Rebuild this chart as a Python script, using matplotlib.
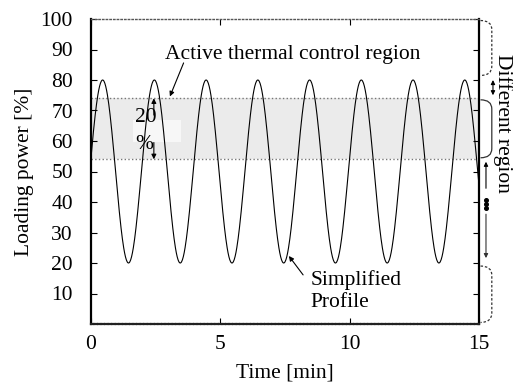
import numpy as np
import matplotlib
matplotlib.use("Agg")
import matplotlib.pyplot as plt
from matplotlib.patches import Rectangle
from matplotlib.path import Path
from matplotlib.patches import PathPatch

plt.rcParams['font.family'] = ['Liberation Serif', 'DejaVu Serif']

# Simplified mission profile: turning points of the loading cycle
peak_times = [0.45, 2.45, 4.45, 6.45, 8.45, 10.45, 12.45, 14.45]
trough_times = [-0.55, 1.45, 3.45, 5.45, 7.45, 9.45, 11.45, 13.45, 15.45]
peak_value = 80.0
trough_value = 20.0

# Active thermal control band
band_low, band_high = 54.0, 74.0

x_ticks = [0, 5, 10, 15]
y_ticks = [10, 20, 30, 40, 50, 60, 70, 80, 90, 100]

FS = 15.5

# build the profile: half-cosine transitions between successive turning points
turns = sorted([(t, peak_value) for t in peak_times] +
               [(t, trough_value) for t in trough_times])
ts, vs = [], []
for (t0, v0), (t1, v1) in zip(turns[:-1], turns[1:]):
    s = np.linspace(0, 1, 60)
    ts.extend(t0 + (t1 - t0) * s)
    vs.extend(v0 + (v1 - v0) * (1 - np.cos(np.pi * s)) / 2)

fig = plt.figure(figsize=(5.13, 3.83), dpi=100)
ax = fig.add_axes([91/513, 1-324/383, (479-91)/513, (324-19)/383])

ax.set_xlim(0, 15)
ax.set_ylim(0, 100)

# shaded control band with dotted edges
ax.axhspan(band_low, band_high, color='#ebebeb', zorder=0, lw=0)
ax.axhline(band_low, color='#777777', ls=':', lw=1.0, zorder=1)
ax.axhline(band_high, color='#777777', ls=':', lw=1.0, zorder=1)

# label box for the band width
ax.add_patch(Rectangle((1.62, 59.7), 1.86, 7.2, facecolor='white', alpha=0.65,
                       edgecolor='none', zorder=1.5))

ax.plot(ts, vs, color='black', lw=0.8, zorder=2)

# band width annotation
ax.annotate('', xy=(2.43, band_high), xytext=(2.43, 68.5),
            arrowprops=dict(arrowstyle='-|>', color='black', lw=0.8,
                            mutation_scale=7, shrinkA=0, shrinkB=0), zorder=3)
ax.annotate('', xy=(2.43, band_low), xytext=(2.43, 59.5),
            arrowprops=dict(arrowstyle='-|>', color='black', lw=0.8,
                            mutation_scale=7, shrinkA=0, shrinkB=0), zorder=3)
ax.text(1.71, 67.8, '20', fontsize=FS, ha='left', va='center', zorder=3)
ax.text(1.71, 58.7, '%', fontsize=FS, ha='left', va='center', zorder=3)

ax.text(2.86, 88.2, 'Active thermal control region', fontsize=FS,
        ha='left', va='center')
ax.annotate('', xy=(3.05, 74.6), xytext=(3.58, 85.6),
            arrowprops=dict(arrowstyle='-|>', color='black', lw=0.8,
                            mutation_scale=7, shrinkA=0, shrinkB=0))

ax.text(8.5, 14.4, 'Simplified', fontsize=FS, ha='left', va='center')
ax.text(8.5, 6.9, 'Profile', fontsize=FS, ha='left', va='center')
ax.annotate('', xy=(7.65, 22.3), xytext=(8.2, 16.1),
            arrowprops=dict(arrowstyle='-|>', color='black', lw=0.8,
                            mutation_scale=7, shrinkA=0, shrinkB=0))

# axes styling
ax.set_xticks(x_ticks)
ax.set_yticks(y_ticks)
ax.tick_params(direction='in', length=4, width=0.8, top=True, right=True,
               labelsize=FS, colors='black')
ax.tick_params(axis='y', pad=13)
ax.tick_params(axis='x', pad=8)
ax.set_xticklabels([str(v) for v in x_ticks])
ax.set_yticklabels([str(v) for v in y_ticks])
ax.spines['left'].set_linewidth(1.6)
ax.spines['right'].set_linewidth(1.6)
ax.spines['top'].set_linestyle(':')
ax.spines['top'].set_linewidth(1.0)
ax.spines['top'].set_edgecolor('#555555')
ax.spines['bottom'].set_linestyle((0, (1, 0.6)))
ax.spines['bottom'].set_linewidth(1.6)
ax.spines['bottom'].set_edgecolor('#222222')

ax.set_xlabel('Time [min]', fontsize=FS, labelpad=7)
ax.set_ylabel('Loading power [%]', fontsize=FS, labelpad=5)

# right-hand side region markers (drawn in data y, axes-fraction x)
trans = ax.get_yaxis_transform()


def bracket(y0, y1, ls):
    x0, x1 = 1.004, 1.033
    r = 3.0
    verts = [(x0, y0), (x1, y0), (x1, y0 - r), (x1, y1 + r), (x1, y1), (x0, y1)]
    codes = [Path.MOVETO, Path.CURVE3, Path.CURVE3, Path.LINETO,
             Path.CURVE3, Path.CURVE3]
    ax.add_patch(PathPatch(Path(verts, codes), transform=trans, fill=False,
                           lw=0.9, ls=ls, edgecolor='#333333', clip_on=False))


bracket(99.5, 81.5, (0, (2, 1.5)))
bracket(73.5, 54.5, '-')
bracket(19.0, 0.5, (0, (2, 1.5)))

xa = 1.036
ax.annotate('', xy=(xa, 80.0), xytext=(xa, 75.0), xycoords=trans, textcoords=trans,
            arrowprops=dict(arrowstyle='<|-|>', color='black', lw=0.8,
                            mutation_scale=6, shrinkA=0, shrinkB=0),
            annotation_clip=False)
xb = 1.018
ax.annotate('', xy=(xb, 53.2), xytext=(xb, 44.5), xycoords=trans, textcoords=trans,
            arrowprops=dict(arrowstyle='-|>', color='black', lw=0.8,
                            mutation_scale=6, shrinkA=0, shrinkB=0),
            annotation_clip=False)
ax.plot([xb] * 3, [40.6, 39.3, 38.0], 'o', color='black', ms=2.6,
        transform=trans, clip_on=False)
ax.annotate('', xy=(xb, 21.6), xytext=(xb, 36.0), xycoords=trans, textcoords=trans,
            arrowprops=dict(arrowstyle='-|>', color='#333333', lw=0.8,
                            mutation_scale=6, shrinkA=0, shrinkB=0),
            annotation_clip=False)

fig.text(503/513, 1-123/383, 'Different region', fontsize=FS, rotation=-90,
         ha='center', va='center')

fig.savefig('out.png', dpi=100)
